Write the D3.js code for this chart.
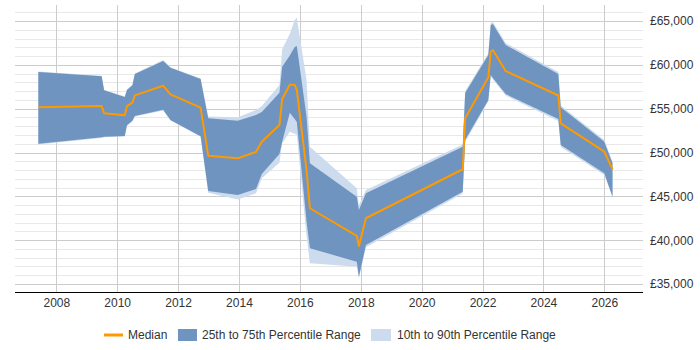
<html>
<head>
<meta charset="UTF-8">
<title>Salary percentiles</title>
<script src="https://cdn.jsdelivr.net/npm/d3@7"></script>
<style>
  body { margin: 0; background: #fff; }
  text { font-family: "Liberation Sans", Arial, sans-serif; font-size: 12px; fill: #333; }
</style>
</head>
<body>
<div id="chart"></div>
<script>
// ---------------------------------------------------
// data
// ---------------------------------------------------
var years = [2007.41, 2009.49, 2009.57, 2010.25, 2010.32, 2010.50, 2010.58, 2011.51, 2011.75, 2012.74,
  2012.99, 2013.96, 2014.56, 2014.75, 2015.33, 2015.42, 2015.67, 2015.83, 2015.90, 2016.22,
  2016.33, 2017.87, 2017.94, 2018.17, 2021.35, 2021.43, 2022.19, 2022.27, 2022.34, 2022.76,
  2024.49, 2024.57, 2026.00, 2026.27];

var median = [55160, 55300, 54470, 54240, 55300, 55680, 56520, 57620, 56640, 55110,
  49640, 49340, 50060, 51230, 53140, 56100, 57730, 57730, 57130, 48000,
  43640, 40480, 39340, 42500, 48090, 53900, 58580, 61500, 61690, 59300,
  56500, 53330, 50090, 48090];

var p25 = [51000, 51740, 51800, 51880, 53100, 53630, 54160, 54880, 53710, 51850,
  45610, 45150, 45840, 47550, 49830, 51230, 54540, 53830, 53480, 42140,
  39070, 37550, 35840, 39450, 45530, 51430, 55990, 58840, 58500, 56670,
  53820, 50860, 47630, 44960];

var p75 = [59180, 58690, 57100, 56330, 57130, 57670, 58960, 60440, 59670, 58390,
  53900, 53630, 54280, 54620, 56820, 59790, 61070, 62030, 62150, 54090,
  48770, 44960, 43440, 45350, 50660, 56790, 61120, 64540, 64660, 62260,
  58960, 55160, 51230, 48770];

var p10 = [50910, 51660, 51740, 51830, 53020, 53570, 54100, 54790, 53650, 51790,
  45420, 44640, 45350, 47060, 48840, 51050, 52370, 52150, 52000, 40480,
  37360, 36980, 35650, 39200, 45330, 51200, 55820, 58670, 58330, 56500,
  53590, 50630, 47440, 44930];

var p90 = [59240, 58750, 57150, 56390, 57190, 57720, 59010, 60550, 59730, 58440,
  54110, 54020, 54850, 55310, 57700, 61770, 63550, 65110, 65380, 58270,
  50660, 45920, 44010, 45720, 50910, 57020, 61290, 64770, 64890, 62490,
  59180, 55360, 51430, 48920];

var xTicks = [2008, 2010, 2012, 2014, 2016, 2018, 2020, 2022, 2024, 2026];
var yTicks = [35000, 40000, 45000, 50000, 55000, 60000, 65000];
var legendLabels = ["Median", "25th to 75th Percentile Range", "10th to 90th Percentile Range"];

// ---------------------------------------------------
// layout
// ---------------------------------------------------
var W = 700, H = 350;
var plot = { left: 15, right: 643, top: 5, bottom: 292 };
var colMedian = "#ff9900", colInner = "#6f94bf", colOuter = "#ccdcee";

var svg = d3.select("#chart").append("svg")
  .attr("width", W).attr("height", H);

var x = d3.scaleLinear().domain([2008, 2026]).range([56.3, 604.3]);
var y = d3.scaleLinear().domain([35000, 65000]).range([284, 21]);

var rows = years.map(function (d, i) {
  return { t: d, med: median[i], lo: p25[i], hi: p75[i], lo2: p10[i], hi2: p90[i] };
});

// gridlines
var minor = d3.range(35000, 66001, 1000);
svg.append("g").selectAll("line").data(minor).enter().append("line")
  .attr("x1", plot.left).attr("x2", plot.right)
  .attr("y1", function (d) { return Math.round(y(d)) + 0.5; })
  .attr("y2", function (d) { return Math.round(y(d)) + 0.5; })
  .attr("stroke", function (d) { return d % 5000 === 0 ? "#cccccc" : "#e8e8e8"; })
  .attr("stroke-width", 1);

svg.append("g").selectAll("line").data(xTicks).enter().append("line")
  .attr("x1", function (d) { return Math.round(x(d)) + 0.5; })
  .attr("x2", function (d) { return Math.round(x(d)) + 0.5; })
  .attr("y1", plot.top).attr("y2", plot.bottom)
  .attr("stroke", "#cccccc");

// bands
var outer = d3.area()
  .x(function (d) { return x(d.t); })
  .y0(function (d) { return y(d.lo2); })
  .y1(function (d) { return y(d.hi2); });
var inner = d3.area()
  .x(function (d) { return x(d.t); })
  .y0(function (d) { return y(d.lo); })
  .y1(function (d) { return y(d.hi); });
var medLine = d3.line()
  .x(function (d) { return x(d.t); })
  .y(function (d) { return y(d.med); });

svg.append("path").datum(rows).attr("d", outer).attr("fill", colOuter);
svg.append("path").datum(rows).attr("d", inner).attr("fill", colInner);
svg.append("path").datum(rows).attr("d", medLine)
  .attr("fill", "none").attr("stroke", colMedian).attr("stroke-width", 2)
  .attr("stroke-linejoin", "round");

// axes
var xAxis = svg.append("g").attr("transform", "translate(0," + plot.bottom + ")")
  .call(d3.axisBottom(x).tickValues(xTicks).tickFormat(d3.format("d")).tickSize(0).tickPadding(6));
xAxis.select(".domain").attr("d", "M" + plot.left + ",0.5H" + plot.right).attr("stroke", "#000");
xAxis.selectAll("text").attr("font-size", 12).attr("fill", "#333")
  .attr("font-family", "Liberation Sans, Arial, sans-serif");

var yAxis = svg.append("g").attr("transform", "translate(" + plot.right + ",0)")
  .call(d3.axisRight(y).tickValues(yTicks).tickFormat(function (d) { return "£" + d3.format(",")(d); })
    .tickSize(0).tickPadding(7));
yAxis.select(".domain").remove();
yAxis.selectAll("text").attr("font-size", 12).attr("fill", "#333")
  .attr("font-family", "Liberation Sans, Arial, sans-serif");

// legend
var lg = svg.append("g").attr("transform", "translate(0,335)");
lg.append("line").attr("x1", 104).attr("x2", 123).attr("y1", 0).attr("y2", 0)
  .attr("stroke", colMedian).attr("stroke-width", 3);
lg.append("text").attr("x", 128).attr("y", 0).attr("dy", "0.35em").text(legendLabels[0]);
lg.append("rect").attr("x", 178).attr("y", -6).attr("width", 19).attr("height", 12).attr("fill", colInner);
lg.append("text").attr("x", 202).attr("y", 0).attr("dy", "0.35em").text(legendLabels[1]);
lg.append("rect").attr("x", 371).attr("y", -6).attr("width", 20).attr("height", 12).attr("fill", colOuter);
lg.append("text").attr("x", 397).attr("y", 0).attr("dy", "0.35em").text(legendLabels[2]);
</script>
</body>
</html>
